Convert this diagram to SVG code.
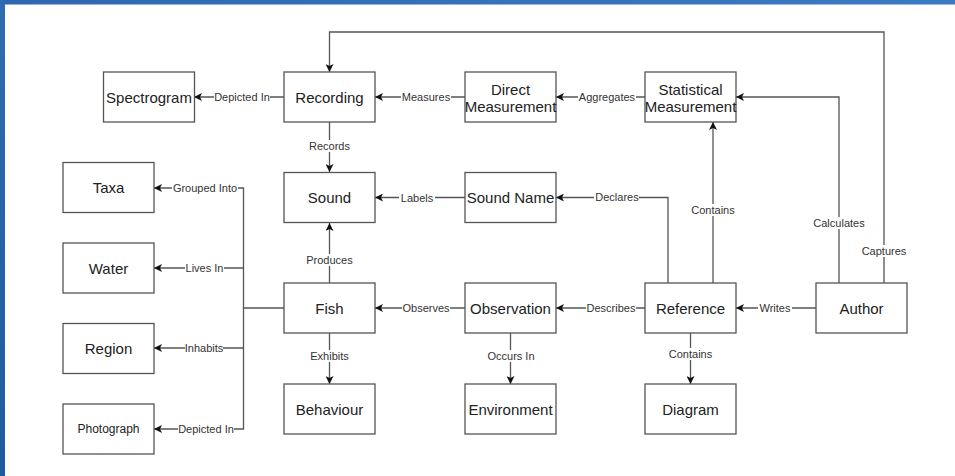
<svg xmlns="http://www.w3.org/2000/svg" width="955" height="476" viewBox="0 0 955 476">
<style>
.node rect{fill:#fff;stroke:#555;stroke-width:1.3}
.node text{font-family:"Liberation Sans",Arial,sans-serif;font-size:15px;fill:#222;text-anchor:middle;dominant-baseline:central}
.node text.sm{font-size:12px}
.edge{fill:none;stroke:#555;stroke-width:1.3}
.lbl{font-family:"Liberation Sans",Arial,sans-serif;font-size:11px;fill:#333;text-anchor:middle;dominant-baseline:central}
.lblbg{fill:#fff}
</style>
<defs>
<marker id="arr" viewBox="0 0 10 10" refX="10" refY="5" markerWidth="8" markerHeight="8" markerUnits="userSpaceOnUse" orient="auto">
<path d="M0,0 L10,5 L0,10 L2.5,5 z" fill="#111"/>
</marker>
<linearGradient id="bgTop" x1="0" y1="0" x2="1" y2="0">
<stop offset="0" stop-color="#2d68b0"/>
<stop offset="1" stop-color="#3b7bc3"/>
</linearGradient>
<linearGradient id="bgLeft" x1="0" y1="0" x2="0" y2="1">
<stop offset="0" stop-color="#2f6cb4"/>
<stop offset="1" stop-color="#1f5aa3"/>
</linearGradient>
</defs>
<rect x="0" y="0" width="955" height="476" fill="#fff"/>
<rect x="0" y="0" width="955" height="4.5" fill="url(#bgTop)"/>
<rect x="0" y="0" width="5" height="476" fill="url(#bgLeft)"/>

<g id="connectors">
<path class="edge" d="M284,97 H194" marker-end="url(#arr)"/>
<path class="edge" d="M465,97 H375" marker-end="url(#arr)"/>
<path class="edge" d="M645,97 H556" marker-end="url(#arr)"/>
<path class="edge" d="M329.5,122 V172" marker-end="url(#arr)"/>
<path class="edge" d="M465,197.5 H375" marker-end="url(#arr)"/>
<path class="edge" d="M329.5,283 V223" marker-end="url(#arr)"/>
<path class="edge" d="M284,308 H243.5 V188 H154" marker-end="url(#arr)"/>
<path class="edge" d="M243.5,268 H154" marker-end="url(#arr)"/>
<path class="edge" d="M243.5,348 H154" marker-end="url(#arr)"/>
<path class="edge" d="M243.5,308 V429 H154" marker-end="url(#arr)"/>
<path class="edge" d="M329.5,333 V384" marker-end="url(#arr)"/>
<path class="edge" d="M465,308 H375" marker-end="url(#arr)"/>
<path class="edge" d="M510.5,333 V384" marker-end="url(#arr)"/>
<path class="edge" d="M645,308 H556" marker-end="url(#arr)"/>
<path class="edge" d="M668,283 V197.5 H556" marker-end="url(#arr)"/>
<path class="edge" d="M713,283 V122" marker-end="url(#arr)"/>
<path class="edge" d="M690.5,333 V384" marker-end="url(#arr)"/>
<path class="edge" d="M816,308 H736" marker-end="url(#arr)"/>
<path class="edge" d="M839,283 V97 H736" marker-end="url(#arr)"/>
<path class="edge" d="M884,283 V32 H329.5 V72" marker-end="url(#arr)"/>

<rect class="lblbg" x="214" y="91" width="56" height="12"/><text class="lbl" x="242" y="97">Depicted In</text>
<rect class="lblbg" x="401" y="91" width="50" height="12"/><text class="lbl" x="426" y="97">Measures</text>
<rect class="lblbg" x="578" y="91" width="58" height="12"/><text class="lbl" x="607" y="97">Aggregates</text>
<rect class="lblbg" x="309" y="140" width="41" height="12"/><text class="lbl" x="329.5" y="146">Records</text>
<rect class="lblbg" x="399" y="191.5" width="36" height="12"/><text class="lbl" x="417" y="197.5">Labels</text>
<rect class="lblbg" x="306" y="254" width="47" height="12"/><text class="lbl" x="329.5" y="260">Produces</text>
<rect class="lblbg" x="172" y="182" width="66" height="12"/><text class="lbl" x="205" y="188">Grouped Into</text>
<rect class="lblbg" x="185" y="262" width="39" height="12"/><text class="lbl" x="204.5" y="268">Lives In</text>
<rect class="lblbg" x="185" y="342" width="38" height="12"/><text class="lbl" x="204" y="348">Inhabits</text>
<rect class="lblbg" x="178" y="423" width="56" height="12"/><text class="lbl" x="206" y="429">Depicted In</text>
<rect class="lblbg" x="311" y="350" width="38" height="12"/><text class="lbl" x="329.5" y="356">Exhibits</text>
<rect class="lblbg" x="402" y="302" width="48" height="12"/><text class="lbl" x="426" y="308">Observes</text>
<rect class="lblbg" x="487" y="350" width="48" height="12"/><text class="lbl" x="511" y="356">Occurs In</text>
<rect class="lblbg" x="586" y="302" width="50" height="12"/><text class="lbl" x="611" y="308">Describes</text>
<rect class="lblbg" x="594" y="191" width="45" height="12"/><text class="lbl" x="617" y="197">Declares</text>
<rect class="lblbg" x="690" y="204" width="46" height="12"/><text class="lbl" x="713" y="210">Contains</text>
<rect class="lblbg" x="667" y="348" width="47" height="12"/><text class="lbl" x="690.5" y="354">Contains</text>
<rect class="lblbg" x="758" y="302" width="34" height="12"/><text class="lbl" x="775" y="308">Writes</text>
<rect class="lblbg" x="812" y="217" width="54" height="12"/><text class="lbl" x="839" y="223">Calculates</text>
<rect class="lblbg" x="861" y="245" width="46" height="12"/><text class="lbl" x="884" y="251">Captures</text>
</g>

<g id="spectrogram" class="node"><rect x="103.5" y="72" width="91" height="50"/><text x="149" y="97">Spectrogram</text></g>
<g id="recording" class="node"><rect x="284" y="72" width="91" height="50"/><text x="329.5" y="97">Recording</text></g>
<g id="direct-measurement" class="node"><rect x="465" y="72" width="91" height="50"/><text x="510.5" y="89">Direct</text><text x="510.5" y="106">Measurement</text></g>
<g id="statistical-measurement" class="node"><rect x="645" y="72" width="91" height="50"/><text x="690.5" y="89">Statistical</text><text x="690.5" y="106">Measurement</text></g>
<g id="taxa" class="node"><rect x="63" y="162.5" width="91" height="50"/><text x="108.5" y="187.5">Taxa</text></g>
<g id="sound" class="node"><rect x="284" y="172.5" width="91" height="50"/><text x="329.5" y="197.5">Sound</text></g>
<g id="sound-name" class="node"><rect x="465" y="172.5" width="91" height="50"/><text x="510.5" y="197.5">Sound Name</text></g>
<g id="water" class="node"><rect x="63" y="243" width="91" height="50"/><text x="108.5" y="268">Water</text></g>
<g id="fish" class="node"><rect x="284" y="283" width="91" height="50"/><text x="329.5" y="308">Fish</text></g>
<g id="observation" class="node"><rect x="465" y="283" width="91" height="50"/><text x="510.5" y="308">Observation</text></g>
<g id="reference" class="node"><rect x="645" y="283" width="91" height="50"/><text x="690.5" y="308">Reference</text></g>
<g id="author" class="node"><rect x="816" y="283" width="91" height="50"/><text x="861.5" y="308">Author</text></g>
<g id="region" class="node"><rect x="63" y="323.5" width="91" height="50"/><text x="108.5" y="348.5">Region</text></g>
<g id="behaviour" class="node"><rect x="284" y="384" width="91" height="50"/><text x="329.5" y="409">Behaviour</text></g>
<g id="environment" class="node"><rect x="465" y="384" width="91" height="50"/><text x="510.5" y="409">Environment</text></g>
<g id="diagram" class="node"><rect x="645" y="384" width="91" height="50"/><text x="690.5" y="409">Diagram</text></g>
<g id="photograph" class="node"><rect x="63" y="404" width="91" height="50"/><text class="sm" x="108.5" y="429">Photograph</text></g>
</svg>
